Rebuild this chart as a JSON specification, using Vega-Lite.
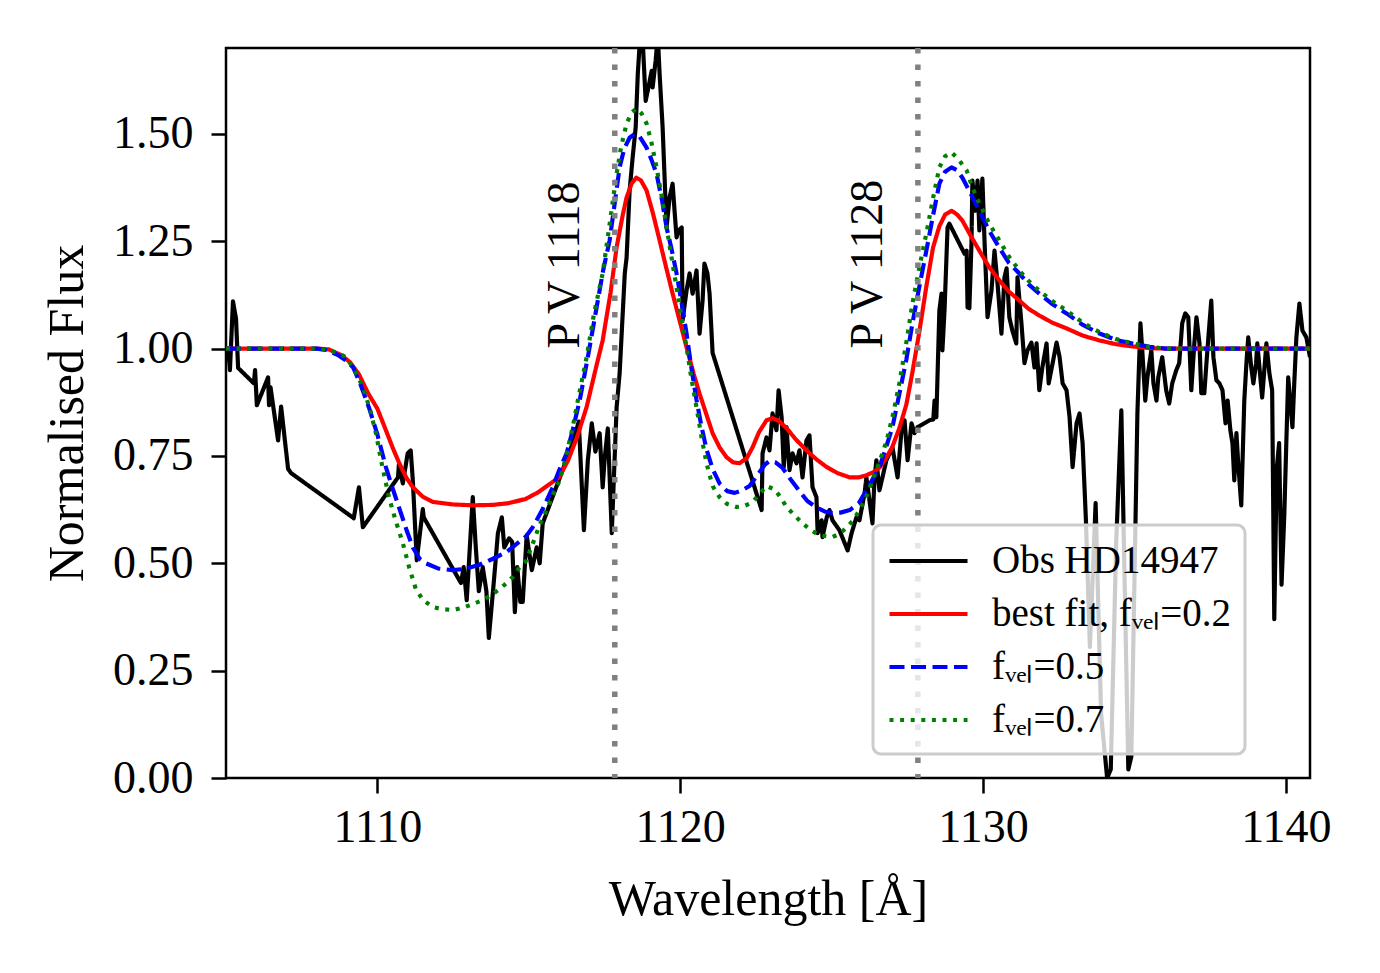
{
  "$schema": "https://vega.github.io/schema/vega-lite/v6.json",
  "width": 1084,
  "height": 730,
  "autosize": {"type": "none"},
  "padding": {"left": 226, "top": 48, "right": 70, "bottom": 195},
  "background": "white",
  "config": {
    "font": "Liberation Serif",
    "view": {"stroke": "black", "strokeWidth": 2.5},
    "axis": {
      "domain": false,
      "grid": false,
      "tickColor": "black",
      "tickSize": 15,
      "tickWidth": 2.5,
      "labelColor": "black",
      "labelFont": "Liberation Serif",
      "labelFontSize": 46,
      "titleColor": "black",
      "titleFont": "Liberation Serif",
      "titleFontSize": 50,
      "titleFontWeight": "normal"
    },
    "legend": {
      "symbolType": "M-1,0H3",
      "symbolSize": 1521,
      "symbolStrokeWidth": 4.17,
      "labelFont": "Liberation Serif",
      "labelFontSize": 39,
      "labelColor": "black",
      "labelOffset": 61,
      "labelLimit": 700,
      "rowPadding": 11,
      "padding": 14,
      "fillColor": "rgba(255,255,255,0.8)",
      "strokeColor": "#cccccc",
      "cornerRadius": 8
    }
  },
  "datasets": {
    "spec": [
      {"s": "obs", "x": 1105.0, "y": 0.97},
      {"s": "obs", "x": 1105.08, "y": 1.0},
      {"s": "obs", "x": 1105.13, "y": 0.95},
      {"s": "obs", "x": 1105.23, "y": 1.11},
      {"s": "obs", "x": 1105.33, "y": 1.07},
      {"s": "obs", "x": 1105.4, "y": 0.955},
      {"s": "obs", "x": 1105.92, "y": 0.919},
      {"s": "obs", "x": 1105.96, "y": 0.95},
      {"s": "obs", "x": 1106.02, "y": 0.868},
      {"s": "obs", "x": 1106.39, "y": 0.933},
      {"s": "obs", "x": 1106.42, "y": 0.868},
      {"s": "obs", "x": 1106.47, "y": 0.91},
      {"s": "obs", "x": 1106.72, "y": 0.786},
      {"s": "obs", "x": 1106.82, "y": 0.865},
      {"s": "obs", "x": 1107.05, "y": 0.72},
      {"s": "obs", "x": 1107.15, "y": 0.71},
      {"s": "obs", "x": 1109.22, "y": 0.605},
      {"s": "obs", "x": 1109.39, "y": 0.677},
      {"s": "obs", "x": 1109.52, "y": 0.584},
      {"s": "obs", "x": 1110.68, "y": 0.70},
      {"s": "obs", "x": 1110.71, "y": 0.73},
      {"s": "obs", "x": 1110.84, "y": 0.686},
      {"s": "obs", "x": 1111.0, "y": 0.756},
      {"s": "obs", "x": 1111.1, "y": 0.763},
      {"s": "obs", "x": 1111.17, "y": 0.693},
      {"s": "obs", "x": 1111.3, "y": 0.507},
      {"s": "obs", "x": 1111.5, "y": 0.626},
      {"s": "obs", "x": 1111.53, "y": 0.607},
      {"s": "obs", "x": 1112.76, "y": 0.454},
      {"s": "obs", "x": 1112.85, "y": 0.491},
      {"s": "obs", "x": 1112.95, "y": 0.414},
      {"s": "obs", "x": 1113.15, "y": 0.654},
      {"s": "obs", "x": 1113.25, "y": 0.537},
      {"s": "obs", "x": 1113.35, "y": 0.435},
      {"s": "obs", "x": 1113.48, "y": 0.491},
      {"s": "obs", "x": 1113.6, "y": 0.435},
      {"s": "obs", "x": 1113.68, "y": 0.326},
      {"s": "obs", "x": 1113.85, "y": 0.461},
      {"s": "obs", "x": 1113.98, "y": 0.57},
      {"s": "obs", "x": 1114.11, "y": 0.607},
      {"s": "obs", "x": 1114.19, "y": 0.537},
      {"s": "obs", "x": 1114.35, "y": 0.558},
      {"s": "obs", "x": 1114.45, "y": 0.55},
      {"s": "obs", "x": 1114.54, "y": 0.386},
      {"s": "obs", "x": 1114.62, "y": 0.491},
      {"s": "obs", "x": 1114.72, "y": 0.41},
      {"s": "obs", "x": 1114.8, "y": 0.41},
      {"s": "obs", "x": 1114.93, "y": 0.565},
      {"s": "obs", "x": 1115.1, "y": 0.484},
      {"s": "obs", "x": 1115.26, "y": 0.537},
      {"s": "obs", "x": 1115.36, "y": 0.5},
      {"s": "obs", "x": 1115.46, "y": 0.593},
      {"s": "obs", "x": 1116.45, "y": 0.78},
      {"s": "obs", "x": 1116.65, "y": 0.83},
      {"s": "obs", "x": 1116.82, "y": 0.577},
      {"s": "obs", "x": 1116.95, "y": 0.74},
      {"s": "obs", "x": 1117.08, "y": 0.826},
      {"s": "obs", "x": 1117.2, "y": 0.76},
      {"s": "obs", "x": 1117.34, "y": 0.803},
      {"s": "obs", "x": 1117.44, "y": 0.677},
      {"s": "obs", "x": 1117.51, "y": 0.747},
      {"s": "obs", "x": 1117.61, "y": 0.814},
      {"s": "obs", "x": 1117.74, "y": 0.57},
      {"s": "obs", "x": 1117.9, "y": 0.863},
      {"s": "obs", "x": 1118.0, "y": 0.942},
      {"s": "obs", "x": 1118.17, "y": 1.175},
      {"s": "obs", "x": 1118.23, "y": 1.212},
      {"s": "obs", "x": 1118.33, "y": 1.368},
      {"s": "obs", "x": 1118.43, "y": 1.445},
      {"s": "obs", "x": 1118.53, "y": 1.515},
      {"s": "obs", "x": 1118.6, "y": 1.64},
      {"s": "obs", "x": 1118.68, "y": 1.73},
      {"s": "obs", "x": 1118.76, "y": 1.72},
      {"s": "obs", "x": 1118.86, "y": 1.577},
      {"s": "obs", "x": 1118.93, "y": 1.601},
      {"s": "obs", "x": 1119.06, "y": 1.647},
      {"s": "obs", "x": 1119.09, "y": 1.608},
      {"s": "obs", "x": 1119.19, "y": 1.671},
      {"s": "obs", "x": 1119.26, "y": 1.73},
      {"s": "obs", "x": 1119.32, "y": 1.64},
      {"s": "obs", "x": 1119.42, "y": 1.515},
      {"s": "obs", "x": 1119.55, "y": 1.282},
      {"s": "obs", "x": 1119.65, "y": 1.352},
      {"s": "obs", "x": 1119.75, "y": 1.384},
      {"s": "obs", "x": 1119.82, "y": 1.315},
      {"s": "obs", "x": 1119.88, "y": 1.259},
      {"s": "obs", "x": 1119.95, "y": 1.275},
      {"s": "obs", "x": 1120.05, "y": 1.282},
      {"s": "obs", "x": 1120.08, "y": 1.066},
      {"s": "obs", "x": 1120.21, "y": 1.135},
      {"s": "obs", "x": 1120.31, "y": 1.175},
      {"s": "obs", "x": 1120.41, "y": 1.128},
      {"s": "obs", "x": 1120.54, "y": 1.182},
      {"s": "obs", "x": 1120.64, "y": 1.035},
      {"s": "obs", "x": 1120.74, "y": 1.112},
      {"s": "obs", "x": 1120.8, "y": 1.198},
      {"s": "obs", "x": 1120.9, "y": 1.175},
      {"s": "obs", "x": 1120.97, "y": 1.128},
      {"s": "obs", "x": 1121.07, "y": 0.99},
      {"s": "obs", "x": 1122.69, "y": 0.624},
      {"s": "obs", "x": 1122.72, "y": 0.756},
      {"s": "obs", "x": 1122.85, "y": 0.793},
      {"s": "obs", "x": 1122.95, "y": 0.763},
      {"s": "obs", "x": 1123.05, "y": 0.849},
      {"s": "obs", "x": 1123.18, "y": 0.81},
      {"s": "obs", "x": 1123.25, "y": 0.903},
      {"s": "obs", "x": 1123.35, "y": 0.84},
      {"s": "obs", "x": 1123.42, "y": 0.724},
      {"s": "obs", "x": 1123.51, "y": 0.817},
      {"s": "obs", "x": 1123.61, "y": 0.717},
      {"s": "obs", "x": 1123.71, "y": 0.756},
      {"s": "obs", "x": 1123.84, "y": 0.733},
      {"s": "obs", "x": 1123.94, "y": 0.763},
      {"s": "obs", "x": 1124.04, "y": 0.70},
      {"s": "obs", "x": 1124.17, "y": 0.786},
      {"s": "obs", "x": 1124.27, "y": 0.798},
      {"s": "obs", "x": 1124.37, "y": 0.677},
      {"s": "obs", "x": 1124.5, "y": 0.654},
      {"s": "obs", "x": 1124.54, "y": 0.57},
      {"s": "obs", "x": 1124.67, "y": 0.60},
      {"s": "obs", "x": 1124.7, "y": 0.561},
      {"s": "obs", "x": 1124.84, "y": 0.607},
      {"s": "obs", "x": 1124.93, "y": 0.624},
      {"s": "obs", "x": 1125.03, "y": 0.60},
      {"s": "obs", "x": 1125.26, "y": 0.577},
      {"s": "obs", "x": 1125.53, "y": 0.53},
      {"s": "obs", "x": 1125.66, "y": 0.57},
      {"s": "obs", "x": 1125.82, "y": 0.607},
      {"s": "obs", "x": 1125.92, "y": 0.60},
      {"s": "obs", "x": 1126.09, "y": 0.663},
      {"s": "obs", "x": 1126.15, "y": 0.70},
      {"s": "obs", "x": 1126.25, "y": 0.647},
      {"s": "obs", "x": 1126.35, "y": 0.593},
      {"s": "obs", "x": 1126.42, "y": 0.70},
      {"s": "obs", "x": 1126.48, "y": 0.74},
      {"s": "obs", "x": 1126.58, "y": 0.67},
      {"s": "obs", "x": 1126.68, "y": 0.70},
      {"s": "obs", "x": 1126.81, "y": 0.74},
      {"s": "obs", "x": 1127.01, "y": 0.77},
      {"s": "obs", "x": 1127.18, "y": 0.70},
      {"s": "obs", "x": 1127.31, "y": 0.81},
      {"s": "obs", "x": 1127.41, "y": 0.833},
      {"s": "obs", "x": 1127.51, "y": 0.74},
      {"s": "obs", "x": 1127.64, "y": 0.826},
      {"s": "obs", "x": 1127.74, "y": 0.803},
      {"s": "obs", "x": 1127.84, "y": 0.817},
      {"s": "obs", "x": 1128.23, "y": 0.833},
      {"s": "obs", "x": 1128.36, "y": 0.835},
      {"s": "obs", "x": 1128.4, "y": 0.879},
      {"s": "obs", "x": 1128.46, "y": 0.84},
      {"s": "obs", "x": 1128.56, "y": 1.089},
      {"s": "obs", "x": 1128.63, "y": 1.128},
      {"s": "obs", "x": 1128.66, "y": 0.996},
      {"s": "obs", "x": 1128.73, "y": 1.089},
      {"s": "obs", "x": 1128.83, "y": 1.282},
      {"s": "obs", "x": 1128.89, "y": 1.291},
      {"s": "obs", "x": 1129.39, "y": 1.221},
      {"s": "obs", "x": 1129.46, "y": 1.228},
      {"s": "obs", "x": 1129.49, "y": 1.096},
      {"s": "obs", "x": 1129.55, "y": 1.094},
      {"s": "obs", "x": 1129.62, "y": 1.245},
      {"s": "obs", "x": 1129.65, "y": 1.391},
      {"s": "obs", "x": 1129.75, "y": 1.321},
      {"s": "obs", "x": 1129.82, "y": 1.391},
      {"s": "obs", "x": 1129.88, "y": 1.275},
      {"s": "obs", "x": 1129.98, "y": 1.396},
      {"s": "obs", "x": 1130.05, "y": 1.252},
      {"s": "obs", "x": 1130.15, "y": 1.073},
      {"s": "obs", "x": 1130.28, "y": 1.135},
      {"s": "obs", "x": 1130.38, "y": 1.228},
      {"s": "obs", "x": 1130.48, "y": 1.152},
      {"s": "obs", "x": 1130.61, "y": 1.035},
      {"s": "obs", "x": 1130.71, "y": 1.166},
      {"s": "obs", "x": 1130.78, "y": 1.187},
      {"s": "obs", "x": 1130.87, "y": 1.073},
      {"s": "obs", "x": 1130.97, "y": 1.042},
      {"s": "obs", "x": 1131.1, "y": 1.012},
      {"s": "obs", "x": 1131.14, "y": 1.166},
      {"s": "obs", "x": 1131.27, "y": 1.059},
      {"s": "obs", "x": 1131.37, "y": 0.966},
      {"s": "obs", "x": 1131.47, "y": 0.996},
      {"s": "obs", "x": 1131.6, "y": 1.014},
      {"s": "obs", "x": 1131.7, "y": 0.956},
      {"s": "obs", "x": 1131.77, "y": 1.012},
      {"s": "obs", "x": 1131.86, "y": 0.903},
      {"s": "obs", "x": 1131.96, "y": 0.956},
      {"s": "obs", "x": 1132.1, "y": 1.012},
      {"s": "obs", "x": 1132.17, "y": 0.919},
      {"s": "obs", "x": 1132.3, "y": 0.966},
      {"s": "obs", "x": 1132.43, "y": 1.014},
      {"s": "obs", "x": 1132.53, "y": 0.98},
      {"s": "obs", "x": 1132.63, "y": 0.919},
      {"s": "obs", "x": 1132.76, "y": 0.903},
      {"s": "obs", "x": 1132.86, "y": 0.84},
      {"s": "obs", "x": 1132.96, "y": 0.724},
      {"s": "obs", "x": 1133.09, "y": 0.826},
      {"s": "obs", "x": 1133.19, "y": 0.849},
      {"s": "obs", "x": 1133.29, "y": 0.78},
      {"s": "obs", "x": 1133.4, "y": 0.6},
      {"s": "obs", "x": 1133.53, "y": 0.305},
      {"s": "obs", "x": 1133.72, "y": 0.64},
      {"s": "obs", "x": 1133.9, "y": 0.15},
      {"s": "obs", "x": 1134.1, "y": 0.0},
      {"s": "obs", "x": 1134.22, "y": 0.02},
      {"s": "obs", "x": 1134.4, "y": 0.55},
      {"s": "obs", "x": 1134.57, "y": 0.856},
      {"s": "obs", "x": 1134.68, "y": 0.45},
      {"s": "obs", "x": 1134.8, "y": 0.02},
      {"s": "obs", "x": 1134.9, "y": 0.05},
      {"s": "obs", "x": 1135.1, "y": 0.85},
      {"s": "obs", "x": 1135.2, "y": 1.059},
      {"s": "obs", "x": 1135.26, "y": 0.996},
      {"s": "obs", "x": 1135.36, "y": 0.879},
      {"s": "obs", "x": 1135.43, "y": 0.933},
      {"s": "obs", "x": 1135.56, "y": 0.996},
      {"s": "obs", "x": 1135.63, "y": 0.919},
      {"s": "obs", "x": 1135.73, "y": 0.879},
      {"s": "obs", "x": 1135.79, "y": 0.933},
      {"s": "obs", "x": 1135.92, "y": 0.98},
      {"s": "obs", "x": 1136.05, "y": 0.903},
      {"s": "obs", "x": 1136.15, "y": 0.872},
      {"s": "obs", "x": 1136.25, "y": 0.919},
      {"s": "obs", "x": 1136.38, "y": 0.949},
      {"s": "obs", "x": 1136.48, "y": 0.966},
      {"s": "obs", "x": 1136.58, "y": 1.059},
      {"s": "obs", "x": 1136.68, "y": 1.082},
      {"s": "obs", "x": 1136.78, "y": 1.073},
      {"s": "obs", "x": 1136.88, "y": 0.903},
      {"s": "obs", "x": 1136.98, "y": 1.012},
      {"s": "obs", "x": 1137.05, "y": 1.073},
      {"s": "obs", "x": 1137.15, "y": 1.012},
      {"s": "obs", "x": 1137.21, "y": 0.896},
      {"s": "obs", "x": 1137.31, "y": 0.896},
      {"s": "obs", "x": 1137.38, "y": 0.966},
      {"s": "obs", "x": 1137.48, "y": 1.059},
      {"s": "obs", "x": 1137.54, "y": 1.112},
      {"s": "obs", "x": 1137.61, "y": 0.98},
      {"s": "obs", "x": 1137.71, "y": 0.926},
      {"s": "obs", "x": 1137.81, "y": 0.919},
      {"s": "obs", "x": 1137.91, "y": 0.903},
      {"s": "obs", "x": 1138.01, "y": 0.826},
      {"s": "obs", "x": 1138.08, "y": 0.879},
      {"s": "obs", "x": 1138.17, "y": 0.81},
      {"s": "obs", "x": 1138.24, "y": 0.779},
      {"s": "obs", "x": 1138.3, "y": 0.693},
      {"s": "obs", "x": 1138.37, "y": 0.803},
      {"s": "obs", "x": 1138.43, "y": 0.733},
      {"s": "obs", "x": 1138.53, "y": 0.635},
      {"s": "obs", "x": 1138.63, "y": 0.879},
      {"s": "obs", "x": 1138.7, "y": 0.966},
      {"s": "obs", "x": 1138.76, "y": 1.026},
      {"s": "obs", "x": 1138.86, "y": 0.956},
      {"s": "obs", "x": 1138.93, "y": 0.919},
      {"s": "obs", "x": 1139.02, "y": 0.966},
      {"s": "obs", "x": 1139.06, "y": 1.012},
      {"s": "obs", "x": 1139.16, "y": 0.933},
      {"s": "obs", "x": 1139.22, "y": 0.886},
      {"s": "obs", "x": 1139.36, "y": 1.012},
      {"s": "obs", "x": 1139.46, "y": 0.942},
      {"s": "obs", "x": 1139.55, "y": 0.903},
      {"s": "obs", "x": 1139.62, "y": 0.37},
      {"s": "obs", "x": 1139.7, "y": 0.72},
      {"s": "obs", "x": 1139.78, "y": 0.78},
      {"s": "obs", "x": 1139.86, "y": 0.45},
      {"s": "obs", "x": 1139.95, "y": 0.61},
      {"s": "obs", "x": 1140.02, "y": 0.786},
      {"s": "obs", "x": 1140.08, "y": 0.933},
      {"s": "obs", "x": 1140.22, "y": 0.817},
      {"s": "obs", "x": 1140.28, "y": 0.919},
      {"s": "obs", "x": 1140.35, "y": 1.026},
      {"s": "obs", "x": 1140.45, "y": 1.105},
      {"s": "obs", "x": 1140.55, "y": 1.042},
      {"s": "obs", "x": 1140.68, "y": 1.026},
      {"s": "obs", "x": 1140.8, "y": 0.98},

      {"s": "fit", "x": 1105.0, "y": 1.0},
      {"s": "fit", "x": 1108.0, "y": 1.0},
      {"s": "fit", "x": 1108.4, "y": 0.998},
      {"s": "fit", "x": 1108.8, "y": 0.985},
      {"s": "fit", "x": 1109.1, "y": 0.968},
      {"s": "fit", "x": 1109.39, "y": 0.94},
      {"s": "fit", "x": 1109.7, "y": 0.895},
      {"s": "fit", "x": 1110.0, "y": 0.86},
      {"s": "fit", "x": 1110.28, "y": 0.81},
      {"s": "fit", "x": 1110.5, "y": 0.77},
      {"s": "fit", "x": 1110.71, "y": 0.735},
      {"s": "fit", "x": 1110.95, "y": 0.70},
      {"s": "fit", "x": 1111.17, "y": 0.677},
      {"s": "fit", "x": 1111.5, "y": 0.655},
      {"s": "fit", "x": 1111.83, "y": 0.643},
      {"s": "fit", "x": 1112.5, "y": 0.637},
      {"s": "fit", "x": 1113.15, "y": 0.635},
      {"s": "fit", "x": 1113.8, "y": 0.636},
      {"s": "fit", "x": 1114.34, "y": 0.64},
      {"s": "fit", "x": 1114.9, "y": 0.65},
      {"s": "fit", "x": 1115.3, "y": 0.665},
      {"s": "fit", "x": 1115.6, "y": 0.68},
      {"s": "fit", "x": 1116.0, "y": 0.70},
      {"s": "fit", "x": 1116.3, "y": 0.74},
      {"s": "fit", "x": 1116.6, "y": 0.795},
      {"s": "fit", "x": 1116.91, "y": 0.864},
      {"s": "fit", "x": 1117.2, "y": 0.95},
      {"s": "fit", "x": 1117.44, "y": 1.019},
      {"s": "fit", "x": 1117.7, "y": 1.13},
      {"s": "fit", "x": 1117.9, "y": 1.236},
      {"s": "fit", "x": 1118.1, "y": 1.31},
      {"s": "fit", "x": 1118.23, "y": 1.352},
      {"s": "fit", "x": 1118.4, "y": 1.385},
      {"s": "fit", "x": 1118.55, "y": 1.398},
      {"s": "fit", "x": 1118.7, "y": 1.392},
      {"s": "fit", "x": 1118.89, "y": 1.368},
      {"s": "fit", "x": 1119.1, "y": 1.315},
      {"s": "fit", "x": 1119.32, "y": 1.252},
      {"s": "fit", "x": 1119.55, "y": 1.185},
      {"s": "fit", "x": 1119.75, "y": 1.128},
      {"s": "fit", "x": 1120.0, "y": 1.06},
      {"s": "fit", "x": 1120.21, "y": 1.003},
      {"s": "fit", "x": 1120.45, "y": 0.94},
      {"s": "fit", "x": 1120.64, "y": 0.895},
      {"s": "fit", "x": 1120.85, "y": 0.85},
      {"s": "fit", "x": 1121.07, "y": 0.803},
      {"s": "fit", "x": 1121.3, "y": 0.77},
      {"s": "fit", "x": 1121.53, "y": 0.747},
      {"s": "fit", "x": 1121.75, "y": 0.735},
      {"s": "fit", "x": 1121.96, "y": 0.733},
      {"s": "fit", "x": 1122.2, "y": 0.745},
      {"s": "fit", "x": 1122.39, "y": 0.77},
      {"s": "fit", "x": 1122.6, "y": 0.805},
      {"s": "fit", "x": 1122.85, "y": 0.833},
      {"s": "fit", "x": 1123.05, "y": 0.838},
      {"s": "fit", "x": 1123.25, "y": 0.832},
      {"s": "fit", "x": 1123.51, "y": 0.815},
      {"s": "fit", "x": 1123.8, "y": 0.79},
      {"s": "fit", "x": 1124.17, "y": 0.763},
      {"s": "fit", "x": 1124.5, "y": 0.742},
      {"s": "fit", "x": 1124.84, "y": 0.724},
      {"s": "fit", "x": 1125.2, "y": 0.71},
      {"s": "fit", "x": 1125.6, "y": 0.70},
      {"s": "fit", "x": 1125.9, "y": 0.70},
      {"s": "fit", "x": 1126.15, "y": 0.705},
      {"s": "fit", "x": 1126.4, "y": 0.713},
      {"s": "fit", "x": 1126.6, "y": 0.724},
      {"s": "fit", "x": 1126.8, "y": 0.745},
      {"s": "fit", "x": 1127.0, "y": 0.77},
      {"s": "fit", "x": 1127.24, "y": 0.815},
      {"s": "fit", "x": 1127.47, "y": 0.87},
      {"s": "fit", "x": 1127.67, "y": 0.945},
      {"s": "fit", "x": 1127.9, "y": 1.04},
      {"s": "fit", "x": 1128.13, "y": 1.145},
      {"s": "fit", "x": 1128.35, "y": 1.235},
      {"s": "fit", "x": 1128.56, "y": 1.285},
      {"s": "fit", "x": 1128.75, "y": 1.312},
      {"s": "fit", "x": 1128.96, "y": 1.321},
      {"s": "fit", "x": 1129.15, "y": 1.312},
      {"s": "fit", "x": 1129.32, "y": 1.298},
      {"s": "fit", "x": 1129.6, "y": 1.262},
      {"s": "fit", "x": 1129.88, "y": 1.228},
      {"s": "fit", "x": 1130.2, "y": 1.19},
      {"s": "fit", "x": 1130.54, "y": 1.159},
      {"s": "fit", "x": 1130.85, "y": 1.133},
      {"s": "fit", "x": 1131.2, "y": 1.112},
      {"s": "fit", "x": 1131.5, "y": 1.093},
      {"s": "fit", "x": 1131.86, "y": 1.077},
      {"s": "fit", "x": 1132.3, "y": 1.06},
      {"s": "fit", "x": 1132.76, "y": 1.047},
      {"s": "fit", "x": 1133.3, "y": 1.03},
      {"s": "fit", "x": 1133.85, "y": 1.019},
      {"s": "fit", "x": 1134.4, "y": 1.01},
      {"s": "fit", "x": 1134.94, "y": 1.005},
      {"s": "fit", "x": 1135.5, "y": 1.001},
      {"s": "fit", "x": 1136.0, "y": 1.0},
      {"s": "fit", "x": 1140.8, "y": 1.0},

      {"s": "f05", "x": 1105.0, "y": 1.0},
      {"s": "f05", "x": 1108.0, "y": 1.0},
      {"s": "f05", "x": 1108.3, "y": 0.997},
      {"s": "f05", "x": 1108.7, "y": 0.985},
      {"s": "f05", "x": 1109.0, "y": 0.97},
      {"s": "f05", "x": 1109.2, "y": 0.956},
      {"s": "f05", "x": 1109.45, "y": 0.915},
      {"s": "f05", "x": 1109.72, "y": 0.863},
      {"s": "f05", "x": 1110.0, "y": 0.80},
      {"s": "f05", "x": 1110.28, "y": 0.724},
      {"s": "f05", "x": 1110.5, "y": 0.675},
      {"s": "f05", "x": 1110.71, "y": 0.631},
      {"s": "f05", "x": 1110.95, "y": 0.58},
      {"s": "f05", "x": 1111.17, "y": 0.537},
      {"s": "f05", "x": 1111.4, "y": 0.51},
      {"s": "f05", "x": 1111.6, "y": 0.50},
      {"s": "f05", "x": 1112.0, "y": 0.488},
      {"s": "f05", "x": 1112.49, "y": 0.484},
      {"s": "f05", "x": 1112.9, "y": 0.487},
      {"s": "f05", "x": 1113.35, "y": 0.496},
      {"s": "f05", "x": 1113.8, "y": 0.51},
      {"s": "f05", "x": 1114.24, "y": 0.525},
      {"s": "f05", "x": 1114.6, "y": 0.545},
      {"s": "f05", "x": 1114.9, "y": 0.562},
      {"s": "f05", "x": 1115.13, "y": 0.584},
      {"s": "f05", "x": 1115.45, "y": 0.625},
      {"s": "f05", "x": 1115.79, "y": 0.677},
      {"s": "f05", "x": 1116.0, "y": 0.716},
      {"s": "f05", "x": 1116.25, "y": 0.756},
      {"s": "f05", "x": 1116.45, "y": 0.81},
      {"s": "f05", "x": 1116.68, "y": 0.879},
      {"s": "f05", "x": 1116.95, "y": 0.98},
      {"s": "f05", "x": 1117.24, "y": 1.096},
      {"s": "f05", "x": 1117.45, "y": 1.18},
      {"s": "f05", "x": 1117.67, "y": 1.252},
      {"s": "f05", "x": 1117.85, "y": 1.345},
      {"s": "f05", "x": 1118.0, "y": 1.422},
      {"s": "f05", "x": 1118.15, "y": 1.465},
      {"s": "f05", "x": 1118.33, "y": 1.491},
      {"s": "f05", "x": 1118.5, "y": 1.50},
      {"s": "f05", "x": 1118.65, "y": 1.495},
      {"s": "f05", "x": 1118.89, "y": 1.468},
      {"s": "f05", "x": 1119.05, "y": 1.44},
      {"s": "f05", "x": 1119.22, "y": 1.407},
      {"s": "f05", "x": 1119.4, "y": 1.345},
      {"s": "f05", "x": 1119.55, "y": 1.282},
      {"s": "f05", "x": 1119.72, "y": 1.23},
      {"s": "f05", "x": 1119.88, "y": 1.175},
      {"s": "f05", "x": 1120.05, "y": 1.105},
      {"s": "f05", "x": 1120.21, "y": 1.035},
      {"s": "f05", "x": 1120.37, "y": 0.955},
      {"s": "f05", "x": 1120.54, "y": 0.88},
      {"s": "f05", "x": 1120.7, "y": 0.82},
      {"s": "f05", "x": 1120.87, "y": 0.765},
      {"s": "f05", "x": 1121.07, "y": 0.72},
      {"s": "f05", "x": 1121.3, "y": 0.686},
      {"s": "f05", "x": 1121.55, "y": 0.668},
      {"s": "f05", "x": 1121.8, "y": 0.664},
      {"s": "f05", "x": 1122.05, "y": 0.67},
      {"s": "f05", "x": 1122.29, "y": 0.68},
      {"s": "f05", "x": 1122.55, "y": 0.705},
      {"s": "f05", "x": 1122.8, "y": 0.73},
      {"s": "f05", "x": 1122.95, "y": 0.738},
      {"s": "f05", "x": 1123.15, "y": 0.735},
      {"s": "f05", "x": 1123.38, "y": 0.722},
      {"s": "f05", "x": 1123.65, "y": 0.695},
      {"s": "f05", "x": 1123.94, "y": 0.668},
      {"s": "f05", "x": 1124.2, "y": 0.645},
      {"s": "f05", "x": 1124.5, "y": 0.63},
      {"s": "f05", "x": 1124.8, "y": 0.62},
      {"s": "f05", "x": 1125.03, "y": 0.617},
      {"s": "f05", "x": 1125.3, "y": 0.618},
      {"s": "f05", "x": 1125.6, "y": 0.624},
      {"s": "f05", "x": 1125.9, "y": 0.64},
      {"s": "f05", "x": 1126.15, "y": 0.67},
      {"s": "f05", "x": 1126.35, "y": 0.695},
      {"s": "f05", "x": 1126.58, "y": 0.724},
      {"s": "f05", "x": 1126.8, "y": 0.77},
      {"s": "f05", "x": 1127.01, "y": 0.817},
      {"s": "f05", "x": 1127.24, "y": 0.895},
      {"s": "f05", "x": 1127.47, "y": 0.975},
      {"s": "f05", "x": 1127.67, "y": 1.059},
      {"s": "f05", "x": 1127.9, "y": 1.145},
      {"s": "f05", "x": 1128.13, "y": 1.228},
      {"s": "f05", "x": 1128.35, "y": 1.31},
      {"s": "f05", "x": 1128.56, "y": 1.384},
      {"s": "f05", "x": 1128.75, "y": 1.412},
      {"s": "f05", "x": 1128.96, "y": 1.422},
      {"s": "f05", "x": 1129.15, "y": 1.415},
      {"s": "f05", "x": 1129.32, "y": 1.398},
      {"s": "f05", "x": 1129.6, "y": 1.36},
      {"s": "f05", "x": 1129.88, "y": 1.321},
      {"s": "f05", "x": 1130.2, "y": 1.275},
      {"s": "f05", "x": 1130.54, "y": 1.235},
      {"s": "f05", "x": 1130.85, "y": 1.2},
      {"s": "f05", "x": 1131.2, "y": 1.175},
      {"s": "f05", "x": 1131.5, "y": 1.15},
      {"s": "f05", "x": 1131.86, "y": 1.128},
      {"s": "f05", "x": 1132.3, "y": 1.103},
      {"s": "f05", "x": 1132.76, "y": 1.082},
      {"s": "f05", "x": 1133.3, "y": 1.055},
      {"s": "f05", "x": 1133.85, "y": 1.035},
      {"s": "f05", "x": 1134.4, "y": 1.02},
      {"s": "f05", "x": 1134.94, "y": 1.012},
      {"s": "f05", "x": 1135.5, "y": 1.004},
      {"s": "f05", "x": 1136.05, "y": 1.0},
      {"s": "f05", "x": 1140.8, "y": 1.0},

      {"s": "f07", "x": 1105.0, "y": 1.0},
      {"s": "f07", "x": 1108.0, "y": 1.0},
      {"s": "f07", "x": 1108.3, "y": 0.997},
      {"s": "f07", "x": 1108.7, "y": 0.99},
      {"s": "f07", "x": 1108.96, "y": 0.98},
      {"s": "f07", "x": 1109.25, "y": 0.95},
      {"s": "f07", "x": 1109.52, "y": 0.91},
      {"s": "f07", "x": 1109.75, "y": 0.86},
      {"s": "f07", "x": 1109.95, "y": 0.803},
      {"s": "f07", "x": 1110.15, "y": 0.73},
      {"s": "f07", "x": 1110.38, "y": 0.654},
      {"s": "f07", "x": 1110.6, "y": 0.60},
      {"s": "f07", "x": 1110.84, "y": 0.547},
      {"s": "f07", "x": 1111.05, "y": 0.49},
      {"s": "f07", "x": 1111.27, "y": 0.44},
      {"s": "f07", "x": 1111.5, "y": 0.415},
      {"s": "f07", "x": 1111.83, "y": 0.398},
      {"s": "f07", "x": 1112.16, "y": 0.393},
      {"s": "f07", "x": 1112.49, "y": 0.391},
      {"s": "f07", "x": 1112.85, "y": 0.397},
      {"s": "f07", "x": 1113.15, "y": 0.405},
      {"s": "f07", "x": 1113.5, "y": 0.415},
      {"s": "f07", "x": 1113.85, "y": 0.43},
      {"s": "f07", "x": 1114.2, "y": 0.45},
      {"s": "f07", "x": 1114.47, "y": 0.468},
      {"s": "f07", "x": 1114.7, "y": 0.491},
      {"s": "f07", "x": 1114.9, "y": 0.505},
      {"s": "f07", "x": 1115.1, "y": 0.54},
      {"s": "f07", "x": 1115.36, "y": 0.59},
      {"s": "f07", "x": 1115.6, "y": 0.625},
      {"s": "f07", "x": 1115.8, "y": 0.66},
      {"s": "f07", "x": 1116.02, "y": 0.693},
      {"s": "f07", "x": 1116.2, "y": 0.74},
      {"s": "f07", "x": 1116.45, "y": 0.817},
      {"s": "f07", "x": 1116.65, "y": 0.89},
      {"s": "f07", "x": 1116.91, "y": 0.98},
      {"s": "f07", "x": 1117.15, "y": 1.08},
      {"s": "f07", "x": 1117.44, "y": 1.175},
      {"s": "f07", "x": 1117.65, "y": 1.28},
      {"s": "f07", "x": 1117.9, "y": 1.407},
      {"s": "f07", "x": 1118.05, "y": 1.47},
      {"s": "f07", "x": 1118.23, "y": 1.524},
      {"s": "f07", "x": 1118.4, "y": 1.55},
      {"s": "f07", "x": 1118.56, "y": 1.559},
      {"s": "f07", "x": 1118.72, "y": 1.548},
      {"s": "f07", "x": 1118.89, "y": 1.524},
      {"s": "f07", "x": 1119.05, "y": 1.48},
      {"s": "f07", "x": 1119.22, "y": 1.422},
      {"s": "f07", "x": 1119.4, "y": 1.35},
      {"s": "f07", "x": 1119.55, "y": 1.282},
      {"s": "f07", "x": 1119.72, "y": 1.21},
      {"s": "f07", "x": 1119.88, "y": 1.142},
      {"s": "f07", "x": 1120.05, "y": 1.07},
      {"s": "f07", "x": 1120.21, "y": 1.003},
      {"s": "f07", "x": 1120.37, "y": 0.93},
      {"s": "f07", "x": 1120.54, "y": 0.863},
      {"s": "f07", "x": 1120.7, "y": 0.795},
      {"s": "f07", "x": 1120.87, "y": 0.733},
      {"s": "f07", "x": 1121.07, "y": 0.68},
      {"s": "f07", "x": 1121.3, "y": 0.654},
      {"s": "f07", "x": 1121.55, "y": 0.638},
      {"s": "f07", "x": 1121.86, "y": 0.631},
      {"s": "f07", "x": 1122.1, "y": 0.633},
      {"s": "f07", "x": 1122.39, "y": 0.642},
      {"s": "f07", "x": 1122.6, "y": 0.66},
      {"s": "f07", "x": 1122.85, "y": 0.68},
      {"s": "f07", "x": 1123.12, "y": 0.672},
      {"s": "f07", "x": 1123.35, "y": 0.65},
      {"s": "f07", "x": 1123.51, "y": 0.631},
      {"s": "f07", "x": 1123.8, "y": 0.61},
      {"s": "f07", "x": 1124.04, "y": 0.593},
      {"s": "f07", "x": 1124.3, "y": 0.578},
      {"s": "f07", "x": 1124.6, "y": 0.565},
      {"s": "f07", "x": 1125.03, "y": 0.561},
      {"s": "f07", "x": 1125.3, "y": 0.57},
      {"s": "f07", "x": 1125.5, "y": 0.584},
      {"s": "f07", "x": 1125.72, "y": 0.60},
      {"s": "f07", "x": 1125.92, "y": 0.624},
      {"s": "f07", "x": 1126.15, "y": 0.655},
      {"s": "f07", "x": 1126.35, "y": 0.693},
      {"s": "f07", "x": 1126.6, "y": 0.74},
      {"s": "f07", "x": 1126.82, "y": 0.786},
      {"s": "f07", "x": 1127.04, "y": 0.85},
      {"s": "f07", "x": 1127.24, "y": 0.92},
      {"s": "f07", "x": 1127.47, "y": 1.015},
      {"s": "f07", "x": 1127.67, "y": 1.105},
      {"s": "f07", "x": 1127.9, "y": 1.19},
      {"s": "f07", "x": 1128.13, "y": 1.268},
      {"s": "f07", "x": 1128.35, "y": 1.35},
      {"s": "f07", "x": 1128.56, "y": 1.422},
      {"s": "f07", "x": 1128.75, "y": 1.448},
      {"s": "f07", "x": 1128.96, "y": 1.457},
      {"s": "f07", "x": 1129.2, "y": 1.44},
      {"s": "f07", "x": 1129.46, "y": 1.415},
      {"s": "f07", "x": 1129.65, "y": 1.375},
      {"s": "f07", "x": 1129.88, "y": 1.338},
      {"s": "f07", "x": 1130.2, "y": 1.292},
      {"s": "f07", "x": 1130.54, "y": 1.252},
      {"s": "f07", "x": 1130.85, "y": 1.215},
      {"s": "f07", "x": 1131.2, "y": 1.182},
      {"s": "f07", "x": 1131.5, "y": 1.158},
      {"s": "f07", "x": 1131.86, "y": 1.135},
      {"s": "f07", "x": 1132.3, "y": 1.11},
      {"s": "f07", "x": 1132.76, "y": 1.089},
      {"s": "f07", "x": 1133.3, "y": 1.06},
      {"s": "f07", "x": 1133.85, "y": 1.038},
      {"s": "f07", "x": 1134.4, "y": 1.022},
      {"s": "f07", "x": 1134.94, "y": 1.012},
      {"s": "f07", "x": 1135.5, "y": 1.004},
      {"s": "f07", "x": 1136.05, "y": 1.0},
      {"s": "f07", "x": 1140.8, "y": 1.0}
    ],
    "lines": [
      {"x": 1117.84},
      {"x": 1127.85}
    ],
    "labels": [
      {"x": 1116.65, "y": 1.0, "t": "P V 1118"},
      {"x": 1126.65, "y": 1.0, "t": "P V 1128"}
    ]
  },
  "layer": [
    {
      "data": {"name": "spec"},
      "mark": {"type": "line", "strokeWidth": 4.17, "clip": true, "strokeCap": "butt", "strokeJoin": "round"},
      "encoding": {
        "x": {
          "field": "x",
          "type": "quantitative",
          "title": "Wavelength [Å]",
          "scale": {"domain": [1105, 1140.8], "nice": false, "zero": false},
          "axis": {"values": [1110, 1120, 1130, 1140], "format": "d", "labelPadding": 12, "titlePadding": 24}
        },
        "y": {
          "field": "y",
          "type": "quantitative",
          "title": "Normalised Flux",
          "scale": {"domain": [0, 1.7], "nice": false},
          "axis": {"values": [0, 0.25, 0.5, 0.75, 1.0, 1.25, 1.5], "format": ".2f", "labelPadding": 18, "titlePadding": 20}
        },
        "color": {
          "field": "s",
          "type": "nominal",
          "scale": {"domain": ["obs", "fit", "f05", "f07"], "range": ["black", "red", "blue", "green"]},
          "legend": {
            "title": null,
            "orient": "none",
            "legendX": 647,
            "legendY": 477,
            "labelExpr": "{'obs': 'Obs HD14947', 'fit': 'best fit, fᵥₑₗ=0.2', 'f05': 'fᵥₑₗ=0.5', 'f07': 'fᵥₑₗ=0.7'}[datum.label]",
            "encode": {"legend": {"update": {"strokeWidth": {"value": 3}}}}
          }
        },
        "strokeDash": {
          "field": "s",
          "type": "nominal",
          "scale": {"domain": ["obs", "fit", "f05", "f07"], "range": [[1, 0], [1, 0], [15, 6.5], [4, 6.6]]},
          "legend": {
            "title": null,
            "orient": "none",
            "legendX": 647,
            "legendY": 477,
            "labelExpr": "{'obs': 'Obs HD14947', 'fit': 'best fit, fᵥₑₗ=0.2', 'f05': 'fᵥₑₗ=0.5', 'f07': 'fᵥₑₗ=0.7'}[datum.label]",
            "encode": {"legend": {"update": {"strokeWidth": {"value": 3}}}}
          }
        }
      }
    },
    {
      "data": {"name": "lines"},
      "mark": {"type": "rule", "color": "#808080", "strokeWidth": 5.5, "strokeDash": [5.5, 11]},
      "encoding": {
        "x": {"field": "x", "type": "quantitative"}
      }
    },
    {
      "data": {"name": "labels"},
      "mark": {"type": "text", "angle": 270, "align": "left", "baseline": "alphabetic", "font": "Liberation Serif", "fontSize": 46, "color": "black"},
      "encoding": {
        "x": {"field": "x", "type": "quantitative"},
        "y": {"field": "y", "type": "quantitative"},
        "text": {"field": "t", "type": "nominal"}
      }
    }
  ]
}
